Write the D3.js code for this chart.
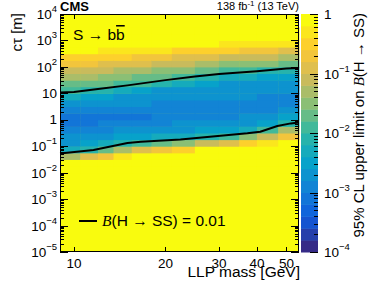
<!DOCTYPE html>
<html>
<head>
<style>
  body { margin: 0; background: #fff; }
  svg text { font-family: "Liberation Sans", Arial, sans-serif; fill: #000; }
  .frame { fill: none; stroke: #000; stroke-width: 1px; }
  .tick { stroke: #000; stroke-width: 1px; shape-rendering: crispEdges; }
  .contour { fill: none; stroke: #000; stroke-width: 2px; stroke-linejoin: round; }
</style>
</head>
<body>
<svg width="374" height="290"></svg>
<script src="https://d3js.org/d3.v7.min.js"></script>
<script>
// mass bin edges [GeV]
const massEdges = [9, 10.5, 12, 13.5, 15.5, 18, 21, 25, 30, 35, 40, 47, 55];
// log10(c tau / m) bin edges
const logCtauEdges = [-2, -1.75, -1.5, -1.25, -1, -0.75, -0.5, -0.25, 0, 0.25, 0.5, 0.75,
  1, 1.25, 1.5, 1.75, 2, 2.25, 2.5, 2.75, 3, 3.25, 3.5];
// log10 of the 95% CL limit, one list per mass bin, from low to high c tau (0 = limit >= 1)
const log10Limit = [
  [0, 0, -1.29, -2.23, -2.64, -2.78, -2.93, -3.08, -3.05, -2.85, -2.65, -2.28, -1.90, -1.61, -1.32, -1.03, -0.74, -0.45, -0.16, 0, 0, 0],
  [0, 0, -0.95, -2.07, -2.57, -2.74, -2.89, -3.04, -3.09, -2.91, -2.72, -2.44, -2.01, -1.70, -1.40, -1.10, -0.79, -0.49, -0.19, 0, 0, 0],
  [0, 0, -0.62, -1.68, -2.35, -2.67, -2.82, -2.97, -3.08, -2.90, -2.71, -2.54, -2.11, -1.77, -1.46, -1.15, -0.84, -0.53, -0.22, 0, 0, 0],
  [0, 0, -0.28, -1.23, -2.09, -2.59, -2.77, -2.95, -3.08, -2.93, -2.78, -2.63, -2.27, -1.88, -1.55, -1.23, -0.91, -0.59, -0.27, 0, 0, 0],
  [0, 0, 0, -0.93, -1.84, -2.41, -2.71, -2.87, -3.03, -2.93, -2.80, -2.68, -2.42, -2.00, -1.66, -1.32, -0.99, -0.65, -0.32, 0, 0, 0],
  [0, 0, 0, -0.69, -1.67, -2.33, -2.68, -2.83, -3.00, -2.96, -2.83, -2.71, -2.60, -2.18, -1.80, -1.44, -1.09, -0.74, -0.39, -0.04, 0, 0],
  [0, 0, 0, -0.49, -1.47, -2.23, -2.64, -2.78, -2.93, -2.95, -2.85, -2.74, -2.64, -2.35, -1.93, -1.56, -1.19, -0.82, -0.45, -0.09, 0, 0],
  [0, 0, 0, -0.10, -1.12, -2.07, -2.57, -2.74, -2.89, -2.97, -2.87, -2.78, -2.68, -2.52, -2.10, -1.70, -1.31, -0.92, -0.53, -0.15, 0, 0],
  [0, 0, 0, 0, -0.82, -1.82, -2.41, -2.70, -2.86, -2.99, -2.90, -2.80, -2.71, -2.61, -2.23, -1.81, -1.41, -1.01, -0.60, -0.20, 0, 0],
  [0, 0, 0, 0, -0.57, -1.55, -2.27, -2.65, -2.79, -2.94, -2.88, -2.79, -2.71, -2.63, -2.32, -1.89, -1.48, -1.07, -0.65, -0.24, 0, 0],
  [0, 0, 0, 0, -0.26, -1.11, -1.97, -2.48, -2.72, -2.87, -2.91, -2.83, -2.74, -2.65, -2.44, -2.01, -1.58, -1.15, -0.73, -0.30, 0, 0],
  [0, 0, 0, 0, 0, -0.70, -1.38, -2.05, -2.55, -2.78, -2.94, -2.85, -2.77, -2.68, -2.56, -2.13, -1.69, -1.25, -0.81, -0.36, 0, 0]
];
// B(H->SS) = 0.01 contour: [mass, c tau]
const contourUpper = [[9, 10.7], [10, 11.2], [12, 14.5], [15, 20], [20, 31.6], [25, 43.6], [30, 53.7], [40, 69], [50, 87], [55, 91]];
const contourLower = [[9, 0.053], [11.6, 0.072], [15, 0.132], [16.6, 0.148], [22.4, 0.179], [37.2, 0.308], [41, 0.353], [46.7, 0.58], [51.7, 0.73], [55, 0.79]];

const xTicks = [10, 20, 30, 40, 50];
const yDecades = [-5, -4, -3, -2, -1, 0, 1, 2, 3, 4];
const zDecades = [-4, -3, -2, -1, 0];

// ROOT kBird palette
const birdR = [0.2082, 0.0592, 0.0780, 0.0232, 0.1802, 0.5301, 0.8186, 0.9956, 0.9764];
const birdG = [0.1664, 0.3599, 0.5041, 0.6419, 0.7178, 0.7492, 0.7328, 0.7862, 0.9832];
const birdB = [0.5293, 0.8684, 0.8385, 0.7914, 0.6425, 0.4662, 0.3499, 0.1968, 0.0539];
const bird = d3.scaleLinear()
  .domain(birdR.map((d, i) => i / 8))
  .range(birdR.map((d, i) => d3.rgb(d * 255, birdG[i] * 255, birdB[i] * 255)))
  .interpolate(d3.interpolateRgb);
const nBands = 20;
function bandColor(v) {
  let idx = Math.floor((v + 4) / (4 / nBands));
  idx = Math.max(0, Math.min(nBands - 1, idx));
  return bird(idx / (nBands - 1));
}

const svg = d3.select('svg');
const L = 60, R = 299, T = 14, B = 252;
const x = d3.scaleLog().domain([9, 55]).range([L, R]);
const y = d3.scaleLog().domain([1e-5, 1e4]).range([B, T]);
const z = d3.scaleLog().domain([1e-4, 1]).range([B, T]);

// background = top colour (limit above 1)
svg.append('rect').attr('x', L).attr('y', T).attr('width', R - L).attr('height', B - T)
  .attr('fill', bandColor(0));

const cells = [];
log10Limit.forEach((col, i) => {
  col.forEach((v, j) => {
    cells.push({ m0: massEdges[i], m1: massEdges[i + 1], c0: Math.pow(10, logCtauEdges[j]), c1: Math.pow(10, logCtauEdges[j + 1]), v: v });
  });
});
svg.append('g').selectAll('rect').data(cells).enter().append('rect')
  .attr('x', d => x(d.m0)).attr('y', d => y(d.c1))
  .attr('width', d => x(d.m1) - x(d.m0) + 0.5).attr('height', d => y(d.c0) - y(d.c1) + 0.5)
  .attr('fill', d => bandColor(d.v));

// contours
const line = d3.line().x(d => x(d[0])).y(d => y(d[1]));
svg.append('path').attr('class', 'contour').attr('d', line(contourUpper));
svg.append('path').attr('class', 'contour').attr('d', line(contourLower));

// frame
svg.append('rect').attr('class', 'frame').attr('x', L + 0.5).attr('y', T + 0.5).attr('width', R - L - 1).attr('height', B - T - 1);

// y ticks (both sides)
const yt = svg.append('g');
yDecades.forEach(e => {
  const yy = Math.round(y(Math.pow(10, e))) + 0.5;
  yt.append('line').attr('class', 'tick').attr('x1', L).attr('x2', L + 8).attr('y1', yy).attr('y2', yy);
  yt.append('line').attr('class', 'tick').attr('x1', R).attr('x2', R - 8).attr('y1', yy).attr('y2', yy);
  if (e < 4) {
    for (let k = 2; k <= 9; k++) {
      const ym = Math.round(y(k * Math.pow(10, e))) + 0.5;
      yt.append('line').attr('class', 'tick').attr('x1', L).attr('x2', L + 4).attr('y1', ym).attr('y2', ym);
      yt.append('line').attr('class', 'tick').attr('x1', R).attr('x2', R - 4).attr('y1', ym).attr('y2', ym);
    }
  }
});
function powLabel(g, e, xx, yy, anchor) {
  const t = g.append('text').attr('x', xx).attr('y', yy).attr('text-anchor', anchor)
    .attr('font-size', 13.5).attr('dominant-baseline', 'middle');
  if (e === 0) t.text('1');
  else if (e === 1) t.text('10');
  else {
    t.append('tspan').text('10');
    t.append('tspan').attr('font-size', 9.5).attr('dy', -6).text(String(e).replace('-', '\u2212'));
  }
}
yDecades.forEach(e => powLabel(yt, e, 57, y(Math.pow(10, e)) + 1, 'end'));

// x ticks
const xt = svg.append('g');
xTicks.forEach(m => {
  const xx = Math.round(x(m)) + 0.5;
  xt.append('line').attr('class', 'tick').attr('x1', xx).attr('x2', xx).attr('y1', B).attr('y2', B - 5);
  xt.append('line').attr('class', 'tick').attr('x1', xx).attr('x2', xx).attr('y1', T).attr('y2', T + 5);
  xt.append('text').attr('x', x(m)).attr('y', 268).attr('text-anchor', 'middle').attr('font-size', 13.5).text(m);
});

// colour bar
const CB0 = 301, CB1 = 318;
const bands = d3.range(nBands);
svg.append('g').selectAll('rect').data(bands).enter().append('rect')
  .attr('x', CB0).attr('width', CB1 - CB0)
  .attr('y', i => z(Math.pow(10, -4 + (i + 1) * 4 / nBands)))
  .attr('height', i => z(Math.pow(10, -4 + i * 4 / nBands)) - z(Math.pow(10, -4 + (i + 1) * 4 / nBands)) + 0.5)
  .attr('fill', i => bird(i / (nBands - 1)));
const zt = svg.append('g');
zDecades.forEach(e => {
  const yy = Math.round(z(Math.pow(10, e))) + 0.5;
  zt.append('line').attr('class', 'tick').attr('x1', CB1).attr('x2', CB1 - 8).attr('y1', yy).attr('y2', yy);
  if (e < 0) {
    for (let k = 2; k <= 9; k++) {
      const ym = Math.round(z(k * Math.pow(10, e))) + 0.5;
      zt.append('line').attr('class', 'tick').attr('x1', CB1).attr('x2', CB1 - 4).attr('y1', ym).attr('y2', ym);
    }
  }
  powLabel(zt, e, 324, z(Math.pow(10, e)) + 1, 'start');
});

// titles
svg.append('text').attr('x', 60).attr('y', 11).attr('font-size', 13).attr('font-weight', 'bold').text('CMS');
const lumi = svg.append('text').attr('x', 299).attr('y', 10).attr('text-anchor', 'end').attr('font-size', 11);
lumi.append('tspan').text('138 fb');
lumi.append('tspan').attr('font-size', 8).attr('dy', -4).text('-1');
lumi.append('tspan').attr('dy', 4).text(' (13 TeV)');

const proc = svg.append('text').attr('x', 73).attr('y', 40).attr('font-size', 15.5);
proc.append('tspan').text('S \u2192 b');
proc.append('tspan').attr('text-decoration', 'overline').text('b');

svg.append('text').attr('x', 300).attr('y', 277).attr('text-anchor', 'end').attr('font-size', 15.5).text('LLP mass [GeV]');
svg.append('text').attr('transform', 'translate(22,13) rotate(-90)').attr('text-anchor', 'end')
  .attr('font-size', 15).text('c\u03c4 [m]');
const zt2 = svg.append('text').attr('transform', 'translate(364,13) rotate(-90)').attr('text-anchor', 'end').attr('font-size', 15);
zt2.append('tspan').text('95% CL upper limit on ');
zt2.append('tspan').attr('font-family', '"Liberation Serif", serif').attr('font-style', 'italic').text('B');
zt2.append('tspan').text('(H \u2192 SS)');

// legend
svg.append('line').attr('x1', 79).attr('x2', 97).attr('y1', 221).attr('y2', 221).attr('stroke', '#000').attr('stroke-width', 2);
const leg = svg.append('text').attr('x', 102).attr('y', 226).attr('font-size', 15.5);
leg.append('tspan').attr('font-family', '"Liberation Serif", serif').attr('font-style', 'italic').text('B');
leg.append('tspan').text('(H \u2192 SS) = 0.01');
</script>
</body>
</html>
